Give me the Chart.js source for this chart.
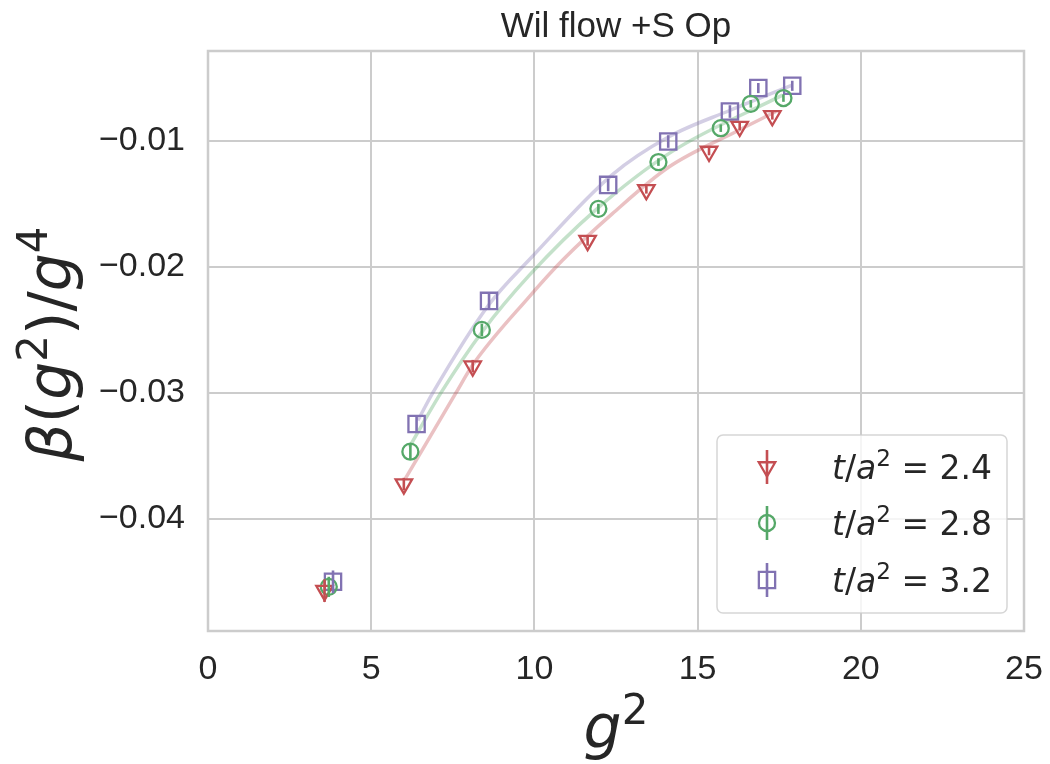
<!DOCTYPE html>
<html lang="en">
<head>
<meta charset="UTF-8" />
<title>Wil flow +S Op</title>
<script src="https://cdn.jsdelivr.net/npm/chart.js"></script>
<style>
  html, body { margin: 0; padding: 0; background: #fff; }
  canvas { display: block; }
</style>
</head>
<body>
<canvas id="chart" width="1050" height="764"></canvas>
<script>
// axis ticks
const xTicks = [0, 5, 10, 15, 20, 25];
const yTicks = [-0.04, -0.03, -0.02, -0.01];

// series: flow time t/a^2
const flowTimes = ["2.4", "2.8", "3.2"];
const colors = ["#C44E52", "#55A868", "#8172B2"];
const fitColors = ["rgba(196,78,82,0.35)", "rgba(85,168,104,0.35)", "rgba(129,114,178,0.35)"];
const markers = ["triangleDown", "circle", "rect"];

const g2_t24 = [3.57, 6.00, 8.11, 11.63, 13.43, 15.35, 16.29, 17.29];
const beta_t24 = [-0.0457, -0.03725, -0.02790, -0.01794, -0.01391, -0.01087, -0.00889, -0.00804];
const err_t24 = [0.0009, 0.0005, 0.0005, 0.0004, 0.0003, 0.0003, 0.0003, 0.0003];

const g2_t28 = [3.70, 6.20, 8.39, 11.96, 13.80, 15.71, 16.63, 17.63];
const beta_t28 = [-0.0454, -0.03468, -0.02502, -0.01542, -0.01171, -0.00902, -0.00709, -0.00663];
const err_t28 = [0.0008, 0.0006, 0.0005, 0.0004, 0.0003, 0.0003, 0.0003, 0.0003];

const g2_t32 = [3.83, 6.39, 8.61, 12.26, 14.10, 15.99, 16.86, 17.90];
const beta_t32 = [-0.0450, -0.03249, -0.02272, -0.01352, -0.01008, -0.00770, -0.00584, -0.00566];
const err_t32 = [0.0009, 0.0006, 0.0006, 0.0005, 0.0005, 0.0005, 0.0004, 0.0004];

// fit curves
const fitX_t24 = [6.05, 7.60, 8.11, 9.84, 10.86, 12.39, 14.12, 16.17, 17.40];
const fitY_t24 = [-0.0368, -0.0300, -0.0278, -0.0224, -0.0195, -0.0158, -0.0121, -0.0093, -0.0077];
const fitX_t28 = [6.17, 7.14, 8.39, 9.84, 11.88, 14.20, 17.60];
const fitY_t28 = [-0.0343, -0.0300, -0.0252, -0.0207, -0.0155, -0.0109, -0.0064];
const fitX_t32 = [6.43, 6.89, 8.61, 9.90, 12.39, 14.12, 16.00, 17.90];
const fitY_t32 = [-0.0322, -0.0300, -0.0230, -0.0193, -0.0127, -0.0097, -0.0076, -0.0056];

const TEXT = "#262626";
const GRID = "#cccccc";
const SANS = '"Liberation Sans", Arial, sans-serif';
const MATH = '"DejaVu Sans", sans-serif';

const pts = (xs, ys) => xs.map((x, i) => ({ x: x, y: ys[i] }));

const sets = [
  { x: g2_t24, y: beta_t24, err: err_t24, fx: fitX_t24, fy: fitY_t24 },
  { x: g2_t28, y: beta_t28, err: err_t28, fx: fitX_t28, fy: fitY_t28 },
  { x: g2_t32, y: beta_t32, err: err_t32, fx: fitX_t32, fy: fitY_t32 },
];

const markerRadius = { triangleDown: 9.5, circle: 8, rect: 11.5 };

const datasets = [];
sets.forEach((s, i) => {
  datasets.push({
    type: "line",
    label: "fit " + flowTimes[i],
    data: pts(s.fx, s.fy),
    borderColor: fitColors[i],
    borderWidth: 3.5,
    pointRadius: 0,
    cubicInterpolationMode: "monotone",
    fill: false,
    order: 5,
  });
});
sets.forEach((s, i) => {
  const m = markers[i];
  datasets.push({
    type: "scatter",
    label: "t/a² = " + flowTimes[i],
    data: pts(s.x, s.y),
    yErr: s.err,
    borderColor: colors[i],
    backgroundColor: "rgba(0,0,0,0)",
    borderWidth: 2.3,
    pointStyle: m === "triangleDown" ? "triangle" : m,
    rotation: m === "triangleDown" ? 180 : 0,
    pointRadius: markerRadius[m],
    order: 1,
  });
});

function drawMarker(ctx, kind, x, y, color) {
  const r = markerRadius[kind];
  ctx.save();
  ctx.strokeStyle = color;
  ctx.lineWidth = 2.3;
  ctx.beginPath();
  if (kind === "triangleDown") {
    ctx.moveTo(x, y + r);
    ctx.lineTo(x - r * 0.866, y - r / 2);
    ctx.lineTo(x + r * 0.866, y - r / 2);
    ctx.closePath();
  } else if (kind === "circle") {
    ctx.arc(x, y, r, 0, Math.PI * 2);
  } else {
    const h = r * Math.SQRT1_2;
    ctx.rect(x - h, y - h, 2 * h, 2 * h);
  }
  ctx.stroke();
  ctx.restore();
}

// text with italic / superscript runs
function runsWidth(ctx, runs, size) {
  let w = 0;
  for (const r of runs) {
    const s = r.sup ? size * 0.7 : size;
    ctx.font = (r.it ? "italic " : "") + s + "px " + MATH;
    w += ctx.measureText(r.t).width;
  }
  return w;
}
function drawRuns(ctx, runs, x, y, size) {
  for (const r of runs) {
    const s = r.sup ? size * 0.7 : size;
    ctx.font = (r.it ? "italic " : "") + s + "px " + MATH;
    ctx.fillText(r.t, x, r.sup ? y - size * 0.4 : y);
    x += ctx.measureText(r.t).width;
  }
}

const yLabel = [
  { t: "β", it: true }, { t: "(" }, { t: "g", it: true }, { t: "2", sup: true },
  { t: ")/" }, { t: "g", it: true }, { t: "4", sup: true },
];
const xLabel = [{ t: "g", it: true }, { t: "2", sup: true }];

const errorBars = {
  id: "errorBars",
  afterDatasetsDraw(chart) {
    const ctx = chart.ctx;
    const ys = chart.scales.y;
    chart.data.datasets.forEach((ds, i) => {
      if (!ds.yErr) return;
      const meta = chart.getDatasetMeta(i);
      ctx.save();
      ctx.strokeStyle = ds.borderColor;
      ctx.lineWidth = 2.6;
      meta.data.forEach((pt, j) => {
        const v = ds.data[j].y;
        const e = ds.yErr[j];
        ctx.beginPath();
        ctx.moveTo(pt.x, ys.getPixelForValue(v - e));
        ctx.lineTo(pt.x, ys.getPixelForValue(v + e));
        ctx.stroke();
      });
      ctx.restore();
    });
  },
};

const frame = {
  id: "frame",
  beforeDatasetsDraw(chart) {
    const { ctx, chartArea: a } = chart;
    ctx.save();
    ctx.strokeStyle = GRID;
    ctx.lineWidth = 2.5;
    ctx.strokeRect(a.left, a.top, a.right - a.left, a.bottom - a.top);
    ctx.restore();
  },
  afterDraw(chart) {
    const { ctx, chartArea: a } = chart;
    ctx.save();
    ctx.fillStyle = TEXT;
    // title
    ctx.font = "35px " + SANS;
    ctx.textAlign = "center";
    ctx.textBaseline = "middle";
    ctx.fillText("Wil flow +S Op", (a.left + a.right) / 2, 27);
    // axis labels
    ctx.textAlign = "left";
    ctx.textBaseline = "alphabetic";
    const xs = 60;
    drawRuns(ctx, xLabel, (a.left + a.right) / 2 - runsWidth(ctx, xLabel, xs) / 2, 748, xs);
    ctx.save();
    ctx.translate(71, (a.top + a.bottom) / 2 + 3);
    ctx.rotate(-Math.PI / 2);
    drawRuns(ctx, yLabel, -runsWidth(ctx, yLabel, xs) / 2, 0, xs);
    ctx.restore();

    // legend
    const L = { x: 717, y: 435, w: 290, h: 178 };
    ctx.beginPath();
    ctx.roundRect(L.x, L.y, L.w, L.h, 6);
    ctx.fillStyle = "rgba(255,255,255,0.8)";
    ctx.fill();
    ctx.strokeStyle = "rgba(204,204,204,0.8)";
    ctx.lineWidth = 1.5;
    ctx.stroke();
    const rowY = [467, 523, 580];
    const ls = 33;
    flowTimes.forEach((ft, i) => {
      const cy = rowY[i];
      ctx.strokeStyle = colors[i];
      ctx.lineWidth = 2.6;
      ctx.beginPath();
      ctx.moveTo(767, cy - 17);
      ctx.lineTo(767, cy + 17);
      ctx.stroke();
      drawMarker(ctx, markers[i], 767, cy, colors[i]);
      ctx.fillStyle = TEXT;
      const runs = [
        { t: "t", it: true }, { t: "/" }, { t: "a", it: true }, { t: "2", sup: true },
        { t: " = " + ft },
      ];
      drawRuns(ctx, runs, 832, cy + 12, ls);
    });
    ctx.restore();
  },
};

new Chart(document.getElementById("chart"), {
  data: { datasets: datasets },
  options: {
    responsive: false,
    devicePixelRatio: 1,
    animation: false,
    events: [],
    layout: { padding: { top: 51, right: 26, left: 0, bottom: 0 } },
    plugins: { legend: { display: false }, tooltip: { enabled: false } },
    scales: {
      x: {
        type: "linear",
        min: 0,
        max: 25,
        afterBuildTicks: (s) => { s.ticks = xTicks.map((v) => ({ value: v })); },
        afterFit: (s) => { s.height = 133; s.paddingLeft = 0; s.paddingRight = 0; },
        ticks: { color: TEXT, font: { family: SANS, size: 34 }, padding: 18, callback: (v) => String(v) },
        grid: { color: GRID, lineWidth: 2, drawTicks: false },
        border: { display: false },
      },
      y: {
        type: "linear",
        min: -0.0489,
        max: -0.0029,
        afterBuildTicks: (s) => { s.ticks = yTicks.map((v) => ({ value: v })); },
        afterFit: (s) => { s.width = 208; s.paddingTop = 0; s.paddingBottom = 0; },
        ticks: {
          color: TEXT,
          font: { family: SANS, size: 34 },
          padding: 23,
          callback: (v) => "\u2212" + Math.abs(v).toFixed(2),
        },
        grid: { color: GRID, lineWidth: 2, drawTicks: false },
        border: { display: false },
      },
    },
  },
  plugins: [errorBars, frame],
});
</script>
</body>
</html>
